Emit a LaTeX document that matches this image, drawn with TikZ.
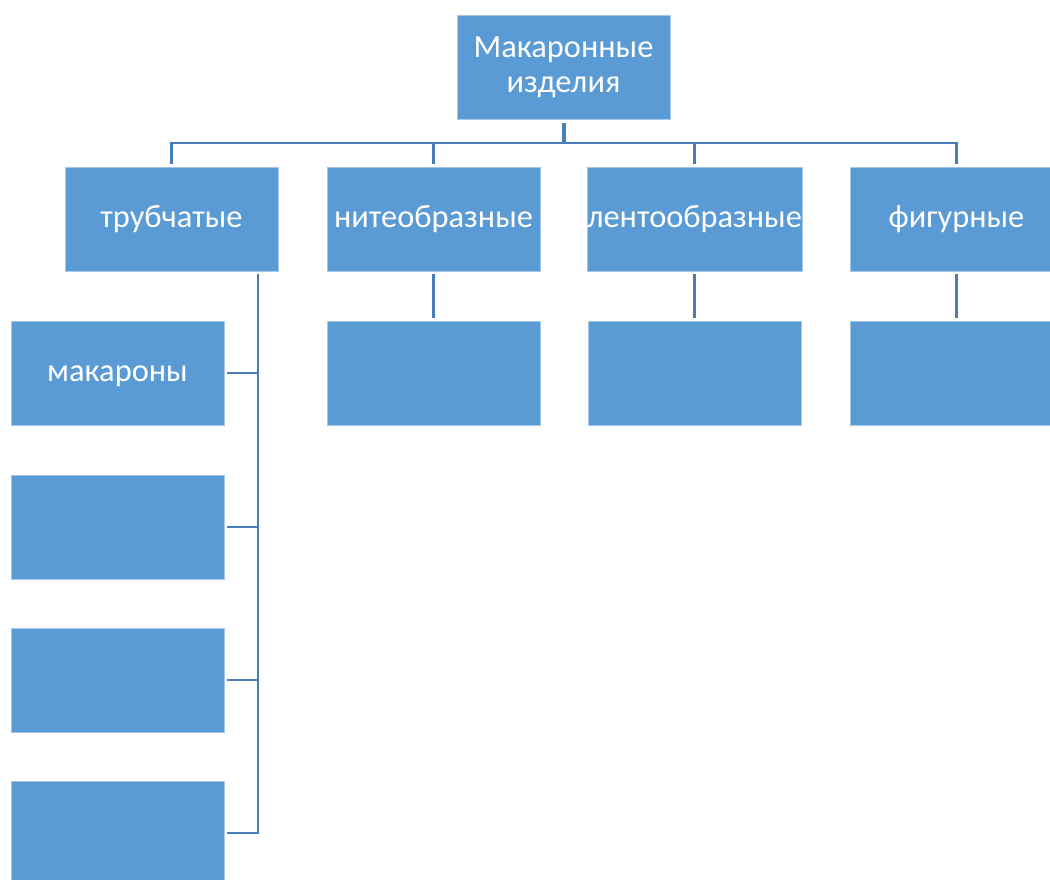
\documentclass[tikz,border=0pt]{standalone}
\usepackage{fontspec}
\setmainfont{Carlito}
\definecolor{boxblue}{HTML}{5B9BD5}
\definecolor{lineblue}{HTML}{4A7EBB}
\begin{document}
\begin{tikzpicture}[x=0.75pt,y=-0.75pt,
  box/.style={draw=white!45!boxblue, line width=0.6pt, fill=boxblue, text=white,
    minimum width=159.75pt, minimum height=78pt, inner sep=0pt, outer sep=2.4pt,
    text height=18.2pt, text depth=6.1pt,
    align=center, font=\fontsize{24.3}{26}\selectfont},
  conn/.style={draw=lineblue, line width=2.2pt}]
\useasboundingbox (0,0) rectangle (1050,880);
\clip (0,0) rectangle (1050,880);
\node[box, text height={}, text depth={}] (top) at (563.5,67.5) {Макаронные\\изделия};
\node[box] (t1) at (171.5,219) {трубчатые};
\node[box] (t2) at (433.5,219) {нитеобразные};
\node[box] (t3) at (694.5,219) {лентообразные};
\node[box] (t4) at (956.5,219) {фигурные};
\node[box] (m1) at (117.5,373) {макароны};
\node[box] (m2) at (117.5,527) {};
\node[box] (m3) at (117.5,680) {};
\node[box] (m4) at (117.5,833) {};
\node[box] (n1) at (433.5,373) {};
\node[box] (l1) at (694.5,373) {};
\node[box] (f1) at (956.5,373) {};
\coordinate (bar) at (563.5,143);
\coordinate (spine) at (258,0);
\draw[conn, line width=3pt] (top.south) -- (bar);
\draw[conn] (t1.north) |- (bar) -| (t4.north);
\draw[conn] (t2.north) -- (t2.north |- bar);
\draw[conn] (t3.north) -- (t3.north |- bar);
\draw[conn] (t2.south) -- (n1.north);
\draw[conn] (t3.south) -- (l1.north);
\draw[conn] (t4.south) -- (f1.north);
\draw[conn] (spine |- t1.south) -- (spine |- m4.east) -- (m4.east);
\draw[conn] (m1.east) -- (spine |- m1.east);
\draw[conn] (m2.east) -- (spine |- m2.east);
\draw[conn] (m3.east) -- (spine |- m3.east);
\end{tikzpicture}
\end{document}
